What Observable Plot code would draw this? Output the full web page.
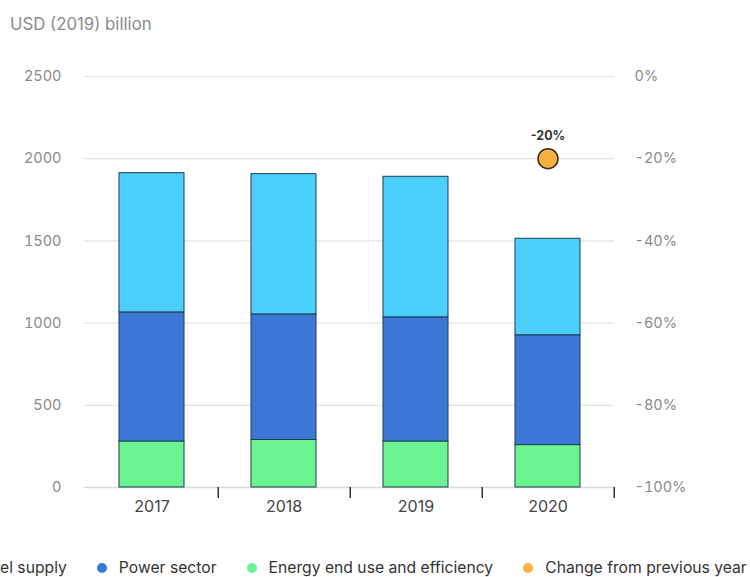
<!DOCTYPE html>
<html><head><meta charset="utf-8">
<script src="https://cdn.jsdelivr.net/npm/d3@7"></script>
<script src="https://cdn.jsdelivr.net/npm/@observablehq/plot@0.6"></script>
<style>
body{margin:0;background:#fff;font-family:Inter,"Open Sans",sans-serif;}
#wrap{position:relative;width:750px;height:577px;overflow:hidden;}
#title{position:absolute;left:10px;top:14px;font-size:16.8px;color:#8c8c8c;}
#chart{position:absolute;left:0;top:40px;}
#legend{position:absolute;top:560px;left:-40px;display:flex;white-space:nowrap;font-size:15.7px;line-height:16px;color:#333;}
.item{display:flex;align-items:center;margin-right:30px}
.dot{width:10px;height:10px;border-radius:50%;margin-right:12px;flex:none}
</style></head>
<body><div id="wrap"><div id="title">USD (2019) billion</div><div id="chart"></div><div id="legend"></div></div>
<script>
const years = ["2017", "2018", "2019", "2020"];
const fuelSupply = [847, 853, 855, 587];
const powerSector = [785, 764, 755, 668];
const endUse = [280, 289, 280, 258];
const changeYears = ["2020"];
const changePct = [-20];
const seriesNames = ["Energy end use and efficiency", "Power sector", "Fuel supply"];
const seriesColors = ["#69f391", "#3b78d6", "#4bd0fd"];
const changeName = "Change from previous year";
const changeColor = "#f8b13f";
const leftTicks = [0, 500, 1000, 1500, 2000, 2500];
const rightTickLabels = ["-100%", "-80%", "-60%", "-40%", "-20%", "0%"];
const legendOrder = ["Fuel supply", "Power sector", "Energy end use and efficiency", "Change from previous year"];

const seriesValues = [endUse, powerSector, fuelSupply];
const rows = [];
seriesNames.forEach((s, i) => years.forEach((y, j) => rows.push({year: y, series: s, value: seriesValues[i][j]})));
const changeData = changeYears.map((y, i) => ({year: y, pct: changePct[i]}));
const pctToLeft = d3.scaleLinear([-100, 0], [0, 2500]);
const rightLabel = new Map(leftTicks.map((t, i) => [t, rightTickLabels[i]]));

const chart = Plot.plot({
  width: 750,
  height: 490,
  marginLeft: 84,
  marginRight: 136,
  marginTop: 36,
  marginBottom: 43,
  style: {fontFamily: "Inter, 'Open Sans', sans-serif", fontSize: "14px", overflow: "visible", background: "transparent"},
  x: {type: "band", domain: years, paddingInner: 0.51, paddingOuter: 0.255, label: null},
  y: {domain: [0, 2500], label: null},
  color: {domain: seriesNames, range: seriesColors},
  marks: [
    Plot.gridY(leftTicks.filter(t => t > 0), {stroke: "#e2e2e2", strokeOpacity: 1, strokeWidth: 1.2}),
    Plot.ruleY([0], {stroke: "#d2dae4", strokeWidth: 1.6}),
    Plot.barY(rows, {x: "year", y: "value", fill: "series", stroke: "#203c4e", strokeWidth: 1}),
    Plot.axisY({ticks: leftTicks, anchor: "left", tickSize: 0, tickPadding: 23, tickFormat: "d", label: null, color: "#8a8a8a", fontSize: 14.5}),
    Plot.axisY({ticks: leftTicks, anchor: "right", tickSize: 0, tickPadding: 20, tickFormat: d => rightLabel.get(d), label: null, color: "#8a8a8a", fontSize: 14.5}),
    Plot.axisX({tickSize: 0, tickPadding: 13, label: null, color: "#444", fontSize: 16}),
    Plot.axisX({tickSize: 11, fill: "none", stroke: "#333", strokeWidth: 1.5, dx: 66.25, label: null}),
    Plot.dot(changeData, {x: "year", y: d => pctToLeft(d.pct), r: 10, fill: changeColor, stroke: "#3b3020", strokeWidth: 1.5}),
    Plot.text(changeData, {x: "year", y: d => pctToLeft(d.pct), text: d => d.pct + "%", dy: -23, fontWeight: "bold", fontSize: 12.5, fill: "#333"})
  ]
});
document.getElementById("chart").appendChild(chart);

const colorOf = new Map(seriesNames.map((s, i) => [s, seriesColors[i]]));
colorOf.set(changeName, changeColor);
const legend = document.getElementById("legend");
legendOrder.forEach(name => {
  const item = document.createElement("div");
  item.className = "item";
  const dot = document.createElement("span");
  dot.className = "dot";
  dot.style.background = colorOf.get(name);
  const label = document.createElement("span");
  label.textContent = name;
  item.appendChild(dot);
  item.appendChild(label);
  legend.appendChild(item);
});
</script>
</body></html>
